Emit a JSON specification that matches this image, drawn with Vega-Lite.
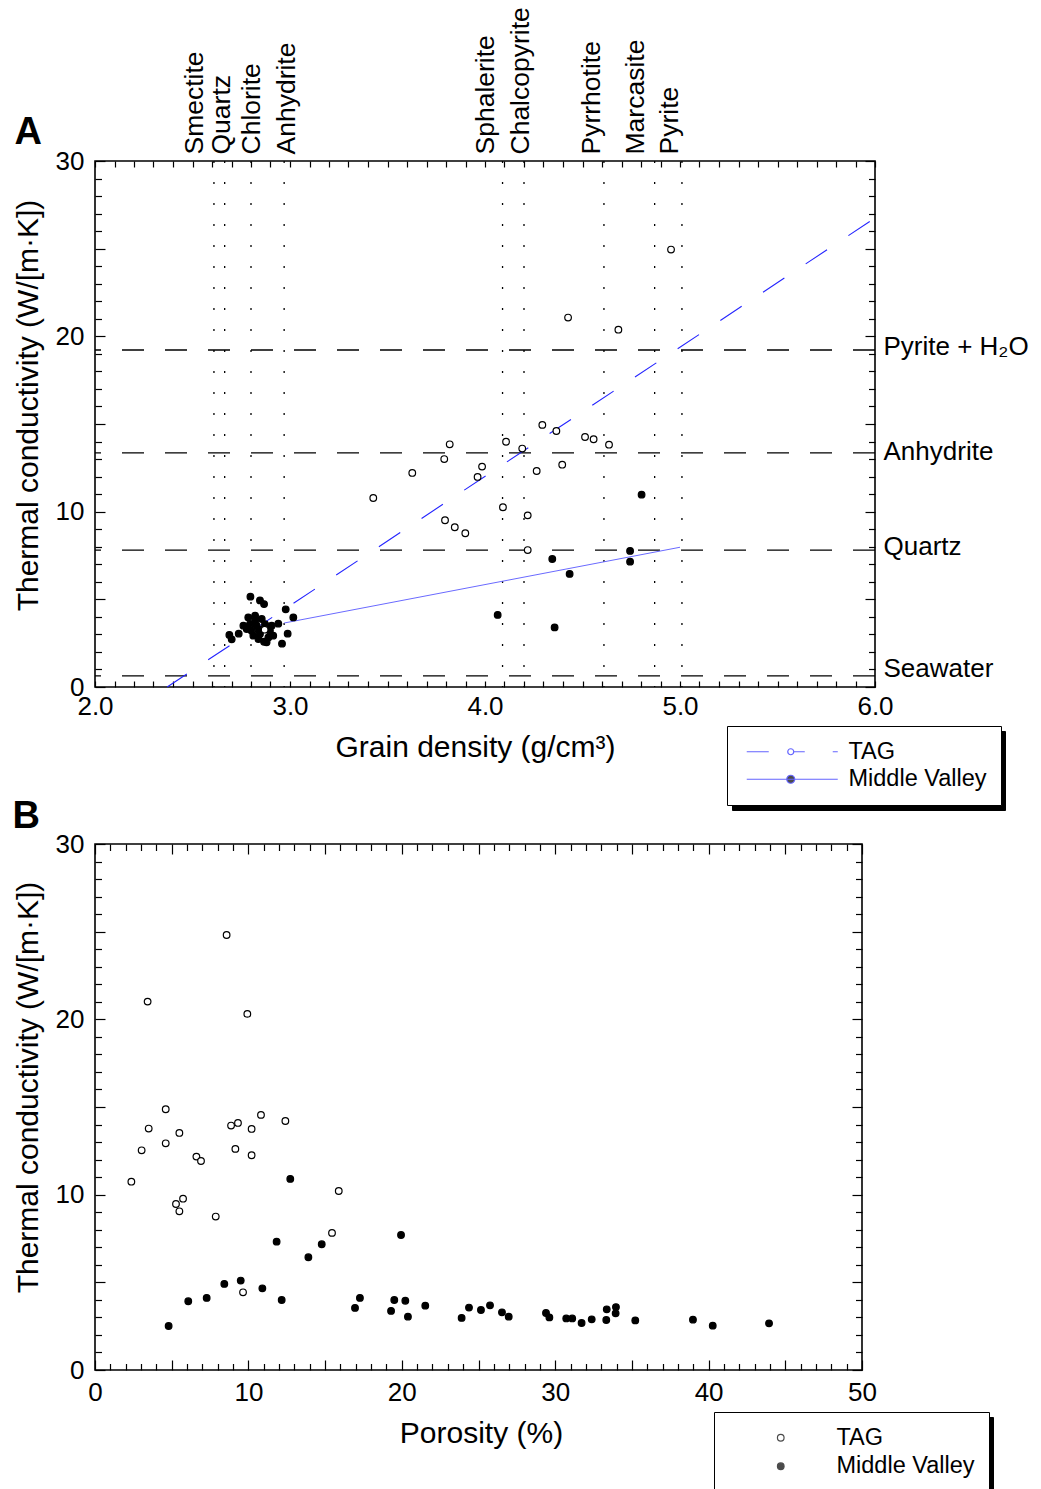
{
  "$schema": "https://vega.github.io/schema/vega-lite/v6.json",
  "background": "white",
  "padding": {"left": 11, "top": 5, "right": 0, "bottom": 0},
  "config": {
    "font": "Liberation Sans",
    "view": {"stroke": "black", "strokeWidth": 1.6},
    "axis": {"grid": false, "domain": false, "labelFont": "Liberation Sans", "titleFont": "Liberation Sans", "labelColor": "black", "titleColor": "black", "tickColor": "black", "labelFontSize": 26, "titleFontSize": 30, "titleFontWeight": "normal", "labelFlush": false, "labelOverlap": false, "tickWidth": 1.2}
  },
  "datasets": {
    "minerals": [
      {"mineral": "Smectite", "density": 2.61},
      {"mineral": "Quartz", "density": 2.665},
      {"mineral": "Chlorite", "density": 2.8},
      {"mineral": "Anhydrite", "density": 2.97},
      {"mineral": "Sphalerite", "density": 4.09},
      {"mineral": "Chalcopyrite", "density": 4.2},
      {"mineral": "Pyrrhotite", "density": 4.61},
      {"mineral": "Marcasite", "density": 4.87},
      {"mineral": "Pyrite", "density": 5.01}
    ],
    "waterlines": [
      {"phase": "Pyrite + H2O", "k": 19.22},
      {"phase": "Anhydrite", "k": 13.35},
      {"phase": "Quartz", "k": 7.81},
      {"phase": "Seawater", "k": 0.63}
    ],
    "fitTAG": [{"density": 2.37, "k": 0}, {"density": 6.0, "k": 26.75}],
    "fitMV": [{"density": 2.97, "k": 3.65}, {"density": 5.0, "k": 7.97}],
    "pointsA": [
      {"series": "Middle Valley", "density": 4.803, "k": 10.97},
      {"series": "Middle Valley", "density": 4.744, "k": 7.76},
      {"series": "Middle Valley", "density": 4.744, "k": 7.15},
      {"series": "Middle Valley", "density": 4.345, "k": 7.3},
      {"series": "Middle Valley", "density": 4.434, "k": 6.45},
      {"series": "Middle Valley", "density": 4.065, "k": 4.11},
      {"series": "Middle Valley", "density": 4.357, "k": 3.4},
      {"series": "Middle Valley", "density": 2.797, "k": 5.15},
      {"series": "Middle Valley", "density": 2.846, "k": 4.94},
      {"series": "Middle Valley", "density": 2.867, "k": 4.73},
      {"series": "Middle Valley", "density": 2.978, "k": 4.43},
      {"series": "Middle Valley", "density": 3.017, "k": 3.97},
      {"series": "Middle Valley", "density": 2.689, "k": 2.97},
      {"series": "Middle Valley", "density": 2.701, "k": 2.72},
      {"series": "Middle Valley", "density": 2.737, "k": 3.04},
      {"series": "Middle Valley", "density": 2.94, "k": 3.61},
      {"series": "Middle Valley", "density": 2.988, "k": 3.04},
      {"series": "Middle Valley", "density": 2.959, "k": 2.47},
      {"series": "Middle Valley", "density": 2.867, "k": 2.58},
      {"series": "Middle Valley", "density": 2.786, "k": 3.97},
      {"series": "Middle Valley", "density": 2.821, "k": 4.07},
      {"series": "Middle Valley", "density": 2.855, "k": 3.88},
      {"series": "Middle Valley", "density": 2.795, "k": 3.59},
      {"series": "Middle Valley", "density": 2.829, "k": 3.5},
      {"series": "Middle Valley", "density": 2.872, "k": 3.59},
      {"series": "Middle Valley", "density": 2.897, "k": 3.21},
      {"series": "Middle Valley", "density": 2.803, "k": 3.21},
      {"series": "Middle Valley", "density": 2.812, "k": 2.93},
      {"series": "Middle Valley", "density": 2.846, "k": 3.02},
      {"series": "Middle Valley", "density": 2.889, "k": 2.83},
      {"series": "Middle Valley", "density": 2.906, "k": 3.5},
      {"series": "Middle Valley", "density": 2.778, "k": 3.31},
      {"series": "Middle Valley", "density": 2.838, "k": 2.74},
      {"series": "Middle Valley", "density": 2.88, "k": 2.55},
      {"series": "Middle Valley", "density": 2.821, "k": 3.78},
      {"series": "Middle Valley", "density": 2.863, "k": 3.31},
      {"series": "Middle Valley", "density": 2.914, "k": 2.93},
      {"series": "Middle Valley", "density": 2.761, "k": 3.5},
      {"series": "Middle Valley", "density": 2.838, "k": 3.27},
      {"series": "TAG", "density": 3.427, "k": 10.78},
      {"series": "TAG", "density": 3.627, "k": 12.21},
      {"series": "TAG", "density": 3.791, "k": 13.0},
      {"series": "TAG", "density": 3.819, "k": 13.84},
      {"series": "TAG", "density": 3.985, "k": 12.57},
      {"series": "TAG", "density": 3.962, "k": 11.98},
      {"series": "TAG", "density": 3.795, "k": 9.51},
      {"series": "TAG", "density": 3.845, "k": 9.11},
      {"series": "TAG", "density": 3.899, "k": 8.77},
      {"series": "TAG", "density": 4.108, "k": 13.99},
      {"series": "TAG", "density": 4.092, "k": 10.25},
      {"series": "TAG", "density": 4.191, "k": 13.6},
      {"series": "TAG", "density": 4.219, "k": 9.79},
      {"series": "TAG", "density": 4.219, "k": 7.81},
      {"series": "TAG", "density": 4.294, "k": 14.95},
      {"series": "TAG", "density": 4.366, "k": 14.6},
      {"series": "TAG", "density": 4.265, "k": 12.32},
      {"series": "TAG", "density": 4.396, "k": 12.68},
      {"series": "TAG", "density": 4.513, "k": 14.26},
      {"series": "TAG", "density": 4.557, "k": 14.13},
      {"series": "TAG", "density": 4.636, "k": 13.82},
      {"series": "TAG", "density": 4.954, "k": 24.95},
      {"series": "TAG", "density": 4.426, "k": 21.07},
      {"series": "TAG", "density": 4.684, "k": 20.38},
      {"series": "TAG", "density": 2.87, "k": 3.27}
    ],
    "pointsB": [
      {"series": "Middle Valley", "porosity": 12.73, "k": 10.9},
      {"series": "Middle Valley", "porosity": 11.84, "k": 7.32},
      {"series": "Middle Valley", "porosity": 13.91, "k": 6.43},
      {"series": "Middle Valley", "porosity": 14.78, "k": 7.17},
      {"series": "Middle Valley", "porosity": 9.5, "k": 5.1},
      {"series": "Middle Valley", "porosity": 8.43, "k": 4.91},
      {"series": "Middle Valley", "porosity": 10.91, "k": 4.66},
      {"series": "Middle Valley", "porosity": 7.28, "k": 4.11},
      {"series": "Middle Valley", "porosity": 6.08, "k": 3.92},
      {"series": "Middle Valley", "porosity": 12.17, "k": 3.99},
      {"series": "Middle Valley", "porosity": 4.8, "k": 2.51},
      {"series": "Middle Valley", "porosity": 19.95, "k": 7.7},
      {"series": "Middle Valley", "porosity": 17.27, "k": 4.11},
      {"series": "Middle Valley", "porosity": 16.95, "k": 3.54},
      {"series": "Middle Valley", "porosity": 19.51, "k": 3.99},
      {"series": "Middle Valley", "porosity": 20.23, "k": 3.95},
      {"series": "Middle Valley", "porosity": 19.3, "k": 3.37},
      {"series": "Middle Valley", "porosity": 20.4, "k": 3.04},
      {"series": "Middle Valley", "porosity": 21.53, "k": 3.67},
      {"series": "Middle Valley", "porosity": 23.9, "k": 2.97},
      {"series": "Middle Valley", "porosity": 24.38, "k": 3.56},
      {"series": "Middle Valley", "porosity": 25.16, "k": 3.42},
      {"series": "Middle Valley", "porosity": 25.75, "k": 3.69},
      {"series": "Middle Valley", "porosity": 26.53, "k": 3.29},
      {"series": "Middle Valley", "porosity": 26.97, "k": 3.04},
      {"series": "Middle Valley", "porosity": 29.4, "k": 3.25},
      {"series": "Middle Valley", "porosity": 29.62, "k": 3.0},
      {"series": "Middle Valley", "porosity": 30.72, "k": 2.94},
      {"series": "Middle Valley", "porosity": 31.11, "k": 2.94},
      {"series": "Middle Valley", "porosity": 31.72, "k": 2.68},
      {"series": "Middle Valley", "porosity": 32.38, "k": 2.89},
      {"series": "Middle Valley", "porosity": 33.36, "k": 3.46},
      {"series": "Middle Valley", "porosity": 33.33, "k": 2.85},
      {"series": "Middle Valley", "porosity": 33.96, "k": 3.59},
      {"series": "Middle Valley", "porosity": 33.94, "k": 3.23},
      {"series": "Middle Valley", "porosity": 35.22, "k": 2.83},
      {"series": "Middle Valley", "porosity": 38.98, "k": 2.87},
      {"series": "Middle Valley", "porosity": 40.27, "k": 2.53},
      {"series": "Middle Valley", "porosity": 43.94, "k": 2.66},
      {"series": "TAG", "porosity": 4.61, "k": 14.87},
      {"series": "TAG", "porosity": 3.5, "k": 13.77},
      {"series": "TAG", "porosity": 5.5, "k": 13.52},
      {"series": "TAG", "porosity": 4.61, "k": 12.93},
      {"series": "TAG", "porosity": 3.04, "k": 12.53},
      {"series": "TAG", "porosity": 6.61, "k": 12.17},
      {"series": "TAG", "porosity": 6.91, "k": 11.92},
      {"series": "TAG", "porosity": 2.37, "k": 10.74},
      {"series": "TAG", "porosity": 5.74, "k": 9.77},
      {"series": "TAG", "porosity": 5.28, "k": 9.47},
      {"series": "TAG", "porosity": 5.5, "k": 9.05},
      {"series": "TAG", "porosity": 7.87, "k": 8.75},
      {"series": "TAG", "porosity": 8.87, "k": 13.94},
      {"series": "TAG", "porosity": 9.32, "k": 14.09},
      {"series": "TAG", "porosity": 10.82, "k": 14.55},
      {"series": "TAG", "porosity": 10.21, "k": 13.75},
      {"series": "TAG", "porosity": 12.41, "k": 14.2},
      {"series": "TAG", "porosity": 9.15, "k": 12.61},
      {"series": "TAG", "porosity": 10.21, "k": 12.25},
      {"series": "TAG", "porosity": 15.89, "k": 10.21},
      {"series": "TAG", "porosity": 15.45, "k": 7.82},
      {"series": "TAG", "porosity": 9.65, "k": 4.43},
      {"series": "TAG", "porosity": 8.58, "k": 24.81},
      {"series": "TAG", "porosity": 3.43, "k": 21.01},
      {"series": "TAG", "porosity": 9.93, "k": 20.31}
    ]
  },
  "resolve": {"scale": {"fill": "independent", "opacity": "independent"}, "legend": {"fill": "independent", "opacity": "independent"}},
  "bounds": "flush",
  "spacing": 157,
  "vconcat": [
    {
      "width": 780,
      "height": 526,
      "resolve": {"axis": {"x": "independent", "y": "independent"}},
      "layer": [
        {
          "data": {"name": "minerals"},
          "mark": {"type": "rule", "color": "black", "strokeWidth": 1.3, "strokeDash": [2, 19]},
          "encoding": {
            "x": {"field": "density", "type": "quantitative", "scale": {"domain": [2, 6], "nice": false, "zero": false},
              "axis": {"orient": "top", "values": [2.51, 2.651, 2.805, 2.98, 4.005, 4.18, 4.544, 4.774, 4.944],
                "labelExpr": "datum.value < 2.6 ? 'Smectite' : datum.value < 2.7 ? 'Quartz' : datum.value < 2.9 ? 'Chlorite' : datum.value < 3.5 ? 'Anhydrite' : datum.value < 4.1 ? 'Sphalerite' : datum.value < 4.3 ? 'Chalcopyrite' : datum.value < 4.6 ? 'Pyrrhotite' : datum.value < 4.85 ? 'Marcasite' : 'Pyrite'",
                "labelAngle": -90, "labelAlign": "left", "labelBaseline": "middle", "ticks": false, "tickSize": 0, "labelPadding": 7, "title": null, "labelFontSize": 26.5}}
          }
        },
        {
          "data": {"name": "waterlines"},
          "mark": {"type": "rule", "color": "black", "strokeWidth": 1.3, "strokeDash": [22, 21]},
          "encoding": {
            "y": {"field": "k", "type": "quantitative", "scale": {"domain": [0, 30], "nice": false, "zero": false},
              "axis": {"orient": "right", "values": [19.4, 13.46, 7.99, 1.03],
                "labelExpr": "datum.value > 18 ? 'Pyrite + H₂O' : datum.value > 12 ? 'Anhydrite' : datum.value > 5 ? 'Quartz' : 'Seawater'",
                "ticks": false, "tickSize": 0, "labelPadding": 8, "title": null, "labelAlign": "left", "labelBaseline": "middle", "labelFontSize": 26}}
          }
        },
        {
          "data": {"name": "fitTAG"},
          "mark": {"type": "line", "color": "#2424ff", "strokeWidth": 1.1, "strokeDash": [25.6, 25.6], "strokeDashOffset": 2},
          "encoding": {
            "x": {"field": "density", "type": "quantitative", "scale": {"domain": [2, 6], "nice": false, "zero": false},
              "axis": {"orient": "bottom", "values": [2, 2.1, 2.2, 2.3, 2.4, 2.5, 2.6, 2.7, 2.8, 2.9, 3, 3.1, 3.2, 3.3, 3.4, 3.5, 3.6, 3.7, 3.8, 3.9, 4, 4.1, 4.2, 4.3, 4.4, 4.5, 4.6, 4.7, 4.8, 4.9, 5, 5.1, 5.2, 5.3, 5.4, 5.5, 5.6, 5.7, 5.8, 5.9, 6],
                "tickSize": -6, "labelPadding": 12,
                "labelExpr": "abs(datum.value - round(datum.value)) < 0.001 ? format(datum.value, '.1f') : ''",
                "title": "Grain density (g/cm³)", "titleX": 380, "titleY": 69, "titleAlign": "center", "titleBaseline": "alphabetic", "titleFontSize": 30}},
            "y": {"field": "k", "type": "quantitative", "scale": {"domain": [0, 30], "nice": false, "zero": false},
              "axis": {"orient": "left", "values": [0, 1, 2, 3, 4, 5, 6, 7, 8, 9, 10, 11, 12, 13, 14, 15, 16, 17, 18, 19, 20, 21, 22, 23, 24, 25, 26, 27, 28, 29, 30],
                "tickSize": {"condition": {"test": "datum.value % 5 === 0", "value": -10}, "value": -6.5},
                "labelPadding": 21, "labelExpr": "datum.value % 10 === 0 ? datum.label : ''",
                "title": "Thermal conductivity (W/[m·K])", "titleX": -58, "titleY": 244, "titleAngle": -90, "titleAlign": "center", "titleBaseline": "alphabetic", "titleFontSize": 30}}
          }
        },
        {
          "data": {"name": "fitMV"},
          "mark": {"type": "line", "color": "#6a6aff", "strokeWidth": 1},
          "encoding": {
            "x": {"field": "density", "type": "quantitative", "scale": {"domain": [2, 6], "nice": false, "zero": false},
              "axis": {"orient": "top", "values": [2, 2.1, 2.2, 2.3, 2.4, 2.5, 2.6, 2.7, 2.8, 2.9, 3, 3.1, 3.2, 3.3, 3.4, 3.5, 3.6, 3.7, 3.8, 3.9, 4, 4.1, 4.2, 4.3, 4.4, 4.5, 4.6, 4.7, 4.8, 4.9, 5, 5.1, 5.2, 5.3, 5.4, 5.5, 5.6, 5.7, 5.8, 5.9, 6],
                "tickSize": -6, "labels": false,
                "title": "A", "titleX": -81, "titleY": -18, "titleAngle": 0, "titleAlign": "left", "titleBaseline": "alphabetic", "titleFontSize": 38, "titleFontWeight": "bold"}},
            "y": {"field": "k", "type": "quantitative", "scale": {"domain": [0, 30], "nice": false, "zero": false},
              "axis": {"orient": "right", "values": [0, 1, 2, 3, 4, 5, 6, 7, 8, 9, 10, 11, 12, 13, 14, 15, 16, 17, 18, 19, 20, 21, 22, 23, 24, 25, 26, 27, 28, 29, 30],
                "tickSize": {"condition": {"test": "datum.value % 5 === 0", "value": -10}, "value": -6.5},
                "labels": false, "title": null}}
          }
        },
        {
          "data": {"name": "pointsA"},
          "mark": {"type": "circle", "stroke": "black", "strokeWidth": 1.2, "size": 44},
          "encoding": {
            "x": {"field": "density", "type": "quantitative", "scale": {"domain": [2, 6], "nice": false, "zero": false}, "axis": null},
            "y": {"field": "k", "type": "quantitative", "scale": {"domain": [0, 30], "nice": false, "zero": false}, "axis": null},
            "opacity": {"field": "series", "type": "nominal", "scale": {"domain": ["Middle Valley", "TAG"], "range": [1, 1]},
              "legend": {"orient": "none", "legendX": 637, "legendY": 570, "title": null, "direction": "vertical", "zindex": 0,
                "padding": 14, "strokeColor": "black", "fillColor": "black",
                "labelFontSize": 23.5, "labelExpr": "''",
                "symbolType": "circle", "symbolSize": 100, "symbolFillColor": "black", "symbolStrokeColor": "black", "symbolStrokeWidth": 1.2, "symbolOffset": 221.5, "labelOffset": 0, "rowPadding": 2.5}},
            "fill": {"field": "series", "type": "nominal", "scale": {"domain": ["TAG", "Middle Valley"], "range": ["white", "black"]},
              "legend": {"orient": "none", "legendX": 632, "legendY": 565, "title": null, "direction": "vertical", "zindex": 1,
                "padding": 14, "strokeColor": "black", "fillColor": "white",
                "labelFontSize": 23.5, "labelFont": "Liberation Sans", "labelColor": "black",
                "symbolType": {"expr": "datum.value === 'TAG' ? 'M-8.8,0H-4.4M-0.6,0A0.6,0.6,0,1,0,0.6,0A0.6,0.6,0,1,0,-0.6,0ZM0.6,0H2.8M8.4,0H9.4' : 'M-8.8,0H9.4M-0.8,0A0.8,0.8,0,1,0,0.8,0A0.8,0.8,0,1,0,-0.8,0Z'"},
                "symbolSize": 100, "symbolStrokeColor": "#2424ff", "symbolStrokeWidth": 1.2, "symbolOffset": 38, "labelOffset": 46, "rowPadding": 2.5}}
          }
        }
      ]
    },
    {
      "width": 767,
      "height": 526,
      "resolve": {"axis": {"x": "independent", "y": "independent"}},
      "layer": [
        {
          "data": {"name": "pointsB"},
          "transform": [{"filter": "datum.series === 'Middle Valley'"}],
          "mark": {"type": "circle", "stroke": "black", "strokeWidth": 1.2, "size": 44},
          "encoding": {
            "x": {"field": "porosity", "type": "quantitative", "scale": {"domain": [0, 50], "nice": false, "zero": false},
              "axis": {"orient": "bottom", "values": [0, 1, 2, 3, 4, 5, 6, 7, 8, 9, 10, 11, 12, 13, 14, 15, 16, 17, 18, 19, 20, 21, 22, 23, 24, 25, 26, 27, 28, 29, 30, 31, 32, 33, 34, 35, 36, 37, 38, 39, 40, 41, 42, 43, 44, 45, 46, 47, 48, 49, 50],
                "tickSize": {"condition": {"test": "datum.value % 5 === 0", "value": -10}, "value": -6.5},
                "labelPadding": 19, "labelExpr": "datum.value % 10 === 0 ? datum.label : ''",
                "title": "Porosity (%)", "titleX": 386, "titleY": 72, "titleAlign": "center", "titleBaseline": "alphabetic", "titleFontSize": 30}},
            "y": {"field": "k", "type": "quantitative", "scale": {"domain": [0, 30], "nice": false, "zero": false},
              "axis": {"orient": "left", "values": [0, 1, 2, 3, 4, 5, 6, 7, 8, 9, 10, 11, 12, 13, 14, 15, 16, 17, 18, 19, 20, 21, 22, 23, 24, 25, 26, 27, 28, 29, 30],
                "tickSize": {"condition": {"test": "datum.value % 5 === 0", "value": -10}, "value": -6.5},
                "labelPadding": 21, "labelExpr": "datum.value % 10 === 0 ? datum.label : ''",
                "title": "Thermal conductivity (W/[m·K])", "titleX": -58, "titleY": 243, "titleAngle": -90, "titleAlign": "center", "titleBaseline": "alphabetic", "titleFontSize": 30}},
            "opacity": {"field": "series", "type": "nominal", "scale": {"domain": ["Middle Valley", "TAG"], "range": [1, 1]},
              "legend": {"orient": "none", "legendX": 624, "legendY": 573, "title": null, "direction": "vertical", "zindex": 0,
                "padding": 14, "strokeColor": "black", "fillColor": "black",
                "labelFontSize": 23.5, "labelExpr": "''",
                "symbolType": "circle", "symbolSize": 44, "symbolFillColor": "black", "symbolStrokeColor": "black", "symbolStrokeWidth": 1.2, "symbolOffset": 222, "labelOffset": 0, "rowPadding": 3.5}},
            "fill": {"field": "series", "type": "nominal", "scale": {"domain": ["TAG", "Middle Valley"], "range": ["white", "black"]},
              "legend": {"orient": "none", "legendX": 619, "legendY": 568, "title": null, "direction": "vertical", "zindex": 1,
                "padding": 14, "strokeColor": "black", "fillColor": "white",
                "labelFontSize": 23.5, "labelFont": "Liberation Sans", "labelColor": "black",
                "symbolType": "circle", "symbolSize": 44, "symbolStrokeColor": "black", "symbolStrokeWidth": 1.2, "symbolOffset": 41, "labelOffset": 44, "rowPadding": 3.5}}
          }
        },
        {
          "data": {"name": "pointsB"},
          "transform": [{"filter": "datum.series === 'TAG'"}],
          "mark": {"type": "circle", "stroke": "black", "strokeWidth": 1.2, "size": 44},
          "encoding": {
            "x": {"field": "porosity", "type": "quantitative", "scale": {"domain": [0, 50], "nice": false, "zero": false},
              "axis": {"orient": "top", "values": [0, 1, 2, 3, 4, 5, 6, 7, 8, 9, 10, 11, 12, 13, 14, 15, 16, 17, 18, 19, 20, 21, 22, 23, 24, 25, 26, 27, 28, 29, 30, 31, 32, 33, 34, 35, 36, 37, 38, 39, 40, 41, 42, 43, 44, 45, 46, 47, 48, 49, 50],
                "tickSize": {"condition": {"test": "datum.value % 5 === 0", "value": -10}, "value": -6.5},
                "labels": false,
                "title": "B", "titleX": -83, "titleY": -17, "titleAngle": 0, "titleAlign": "left", "titleBaseline": "alphabetic", "titleFontSize": 38, "titleFontWeight": "bold"}},
            "y": {"field": "k", "type": "quantitative", "scale": {"domain": [0, 30], "nice": false, "zero": false},
              "axis": {"orient": "right", "values": [0, 1, 2, 3, 4, 5, 6, 7, 8, 9, 10, 11, 12, 13, 14, 15, 16, 17, 18, 19, 20, 21, 22, 23, 24, 25, 26, 27, 28, 29, 30],
                "tickSize": {"condition": {"test": "datum.value % 5 === 0", "value": -10}, "value": -6.5},
                "labels": false, "title": null}},
            "opacity": {"field": "series", "type": "nominal", "scale": {"domain": ["Middle Valley", "TAG"], "range": [1, 1]},
              "legend": {"orient": "none", "legendX": 624, "legendY": 573, "title": null, "direction": "vertical", "zindex": 0,
                "padding": 14, "strokeColor": "black", "fillColor": "black",
                "labelFontSize": 23.5, "labelExpr": "''",
                "symbolType": "circle", "symbolSize": 44, "symbolFillColor": "black", "symbolStrokeColor": "black", "symbolStrokeWidth": 1.2, "symbolOffset": 222, "labelOffset": 0, "rowPadding": 3.5}},
            "fill": {"field": "series", "type": "nominal", "scale": {"domain": ["TAG", "Middle Valley"], "range": ["white", "black"]},
              "legend": {"orient": "none", "legendX": 619, "legendY": 568, "title": null, "direction": "vertical", "zindex": 1,
                "padding": 14, "strokeColor": "black", "fillColor": "white",
                "labelFontSize": 23.5, "labelFont": "Liberation Sans", "labelColor": "black",
                "symbolType": "circle", "symbolSize": 44, "symbolStrokeColor": "black", "symbolStrokeWidth": 1.2, "symbolOffset": 41, "labelOffset": 44, "rowPadding": 3.5}}
          }
        }
      ]
    }
  ]
}
